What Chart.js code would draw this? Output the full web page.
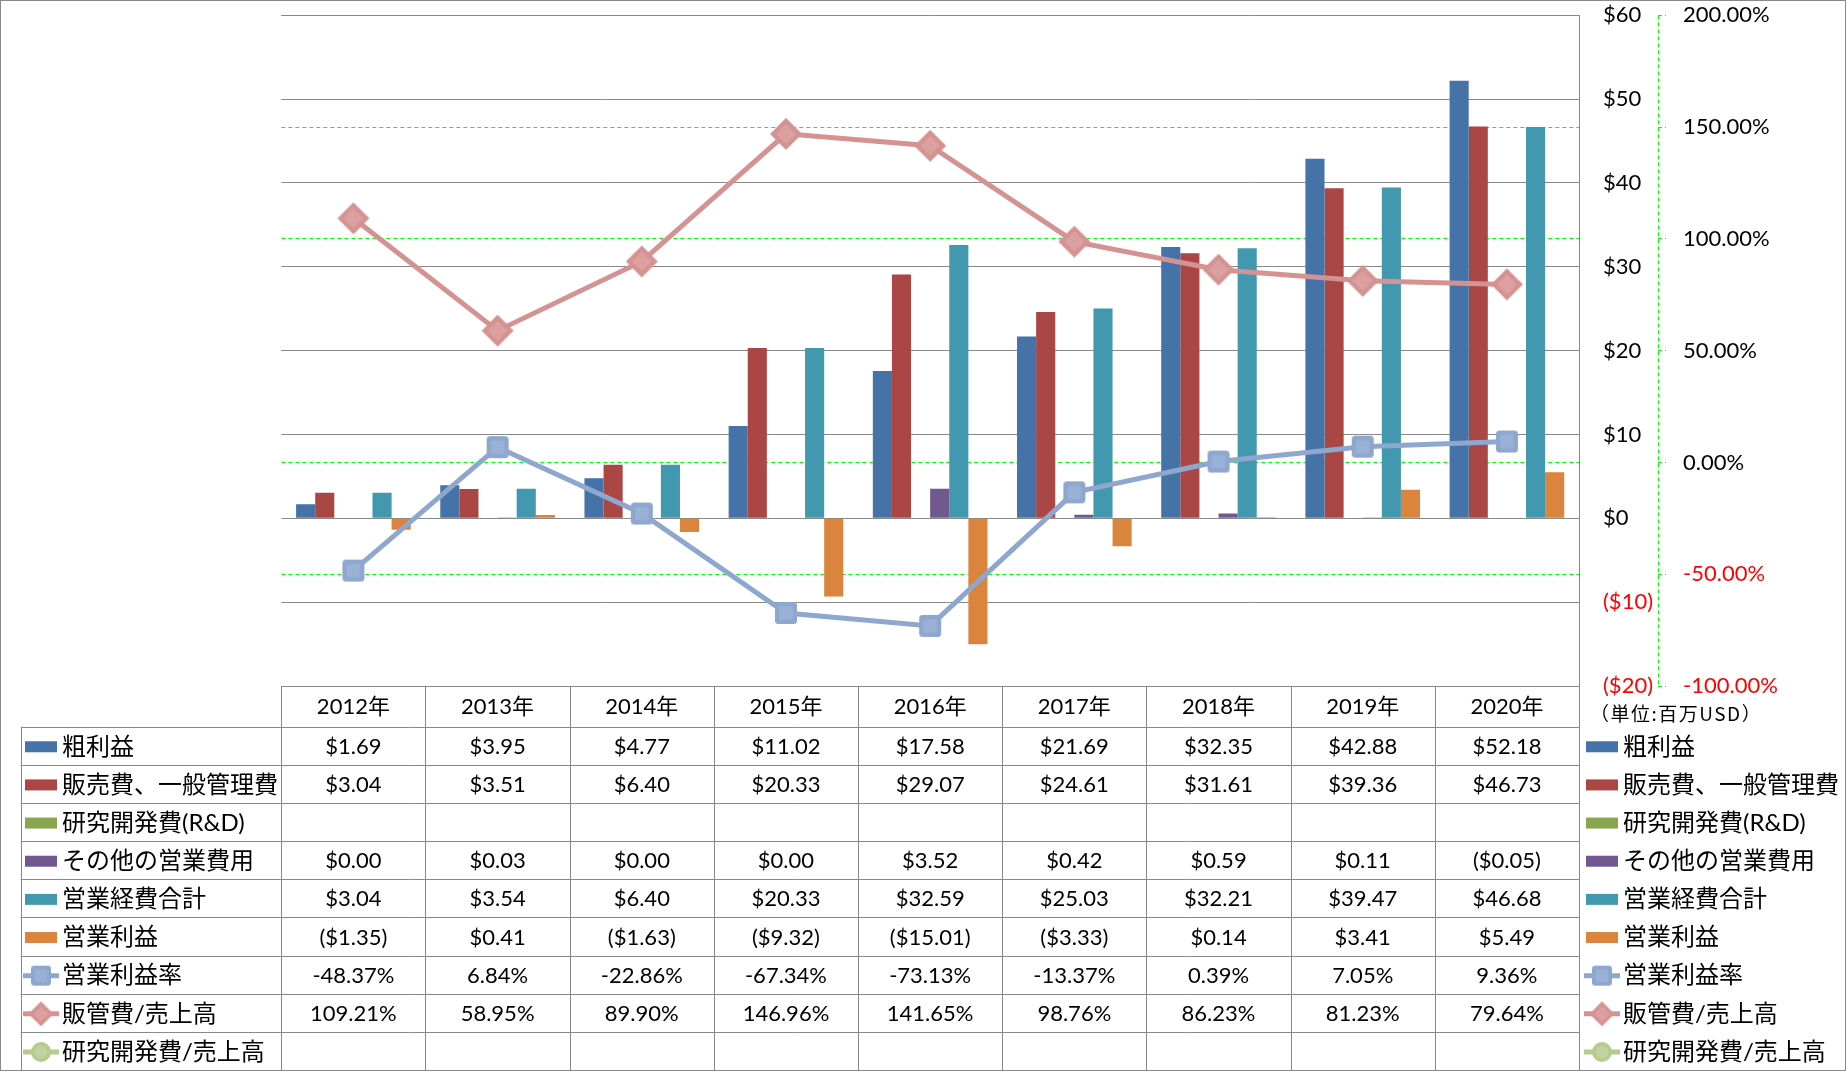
<!DOCTYPE html>
<html>
<head>
<meta charset="utf-8">
<script src="https://cdn.jsdelivr.net/npm/chart.js@4.4.0/dist/chart.umd.min.js"></script>
<style>
  html, body { margin: 0; padding: 0; background: #fff; }
</style>
</head>
<body>
<canvas id="financeChart" width="1846" height="1071"></canvas>
<script>
const years = ['2012年', '2013年', '2014年', '2015年', '2016年', '2017年', '2018年', '2019年', '2020年'];
const grossProfit = [1.69, 3.95, 4.77, 11.02, 17.58, 21.69, 32.35, 42.88, 52.18];
const sgaExpense = [3.04, 3.51, 6.40, 20.33, 29.07, 24.61, 31.61, 39.36, 46.73];
const rdExpense = [null, null, null, null, null, null, null, null, null];
const otherExpense = [0.00, 0.03, 0.00, 0.00, 3.52, 0.42, 0.59, 0.11, -0.05];
const totalOpex = [3.04, 3.54, 6.40, 20.33, 32.59, 25.03, 32.21, 39.47, 46.68];
const operatingIncome = [-1.35, 0.41, -1.63, -9.32, -15.01, -3.33, 0.14, 3.41, 5.49];
const operatingMargin = [-48.37, 6.84, -22.86, -67.34, -73.13, -13.37, 0.39, 7.05, 9.36];
const sgaRatio = [109.21, 58.95, 89.90, 146.96, 141.65, 98.76, 86.23, 81.23, 79.64];
const rdRatio = [null, null, null, null, null, null, null, null, null];

const moneyTicks = [-20, -10, 0, 10, 20, 30, 40, 50, 60];
const pctTicks = [-100, -50, 0, 50, 100, 150, 200];

const FONT = 'Lato, "Noto Sans CJK JP", sans-serif';
const LINE_GREY = '#898989';

function fmtMoney(v) {
  if (v === null) return '';
  return v < 0 ? '($' + Math.abs(v).toFixed(2) + ')' : '$' + v.toFixed(2);
}
function fmtPct(v) {
  if (v === null) return '';
  return v.toFixed(2) + '%';
}

// small bitmaps for the Excel-like markers
function makeMarker(shape, size, outer, inner) {
  const cv = document.createElement('canvas');
  cv.width = size + 2;
  cv.height = size + 2;
  const c = cv.getContext('2d');
  const m = (size + 2) / 2;
  const path = (s) => {
    c.beginPath();
    if (shape === 'square') {
      c.roundRect(m - s / 2, m - s / 2, s, s, Math.max(2, s * 0.16));
    } else if (shape === 'diamond') {
      c.moveTo(m, m - s / 2);
      c.lineTo(m + s / 2, m);
      c.lineTo(m, m + s / 2);
      c.lineTo(m - s / 2, m);
      c.closePath();
    } else {
      c.arc(m, m, s / 2, 0, Math.PI * 2);
    }
  };
  c.fillStyle = outer;
  path(size);
  c.fill();
  c.fillStyle = inner;
  path(size * 0.62);
  c.fill();
  return cv;
}

const blueSquare = makeMarker('square', 22, '#8EA7CF', '#9AB1D6');
const pinkDiamond = makeMarker('diamond', 32, '#D49392', '#DBA09F');
const blueSquareSm = makeMarker('square', 20, '#8EA7CF', '#9AB1D6');
const pinkDiamondSm = makeMarker('diamond', 25, '#D49392', '#DBA09F');
const greenCircleSm = makeMarker('circle', 20, '#B5CB90', '#C0D3A0');

// rows of the data table under the chart
const tableRows = [
  { label: '粗利益', values: grossProfit, kind: 'bar', color: '#4572A7', fmt: fmtMoney },
  { label: '販売費、一般管理費', values: sgaExpense, kind: 'bar', color: '#AA4643', fmt: fmtMoney },
  { label: '研究開発費(R&D)', values: rdExpense, kind: 'bar', color: '#89A54E', fmt: fmtMoney },
  { label: 'その他の営業費用', values: otherExpense, kind: 'bar', color: '#71588F', fmt: fmtMoney },
  { label: '営業経費合計', values: totalOpex, kind: 'bar', color: '#4198AF', fmt: fmtMoney },
  { label: '営業利益', values: operatingIncome, kind: 'bar', color: '#DB843D', fmt: fmtMoney },
  { label: '営業利益率', values: operatingMargin, kind: 'line', color: '#8EA7CF', img: blueSquareSm, fmt: fmtPct },
  { label: '販管費/売上高', values: sgaRatio, kind: 'line', color: '#D49392', img: pinkDiamondSm, fmt: fmtPct },
  { label: '研究開発費/売上高', values: rdRatio, kind: 'line', color: '#B5CB90', img: greenCircleSm, fmt: fmtPct }
];

function drawMarker(ctx, row, x0, x1, yc) {
  ctx.save();
  if (row.kind === 'bar') {
    ctx.fillStyle = row.color;
    ctx.fillRect(x0, yc - 5.5, x1 - x0, 11);
  } else {
    ctx.strokeStyle = row.color;
    ctx.lineWidth = 5;
    ctx.beginPath();
    ctx.moveTo(x0 - 2, yc);
    ctx.lineTo(x1 + 2, yc);
    ctx.stroke();
    const cx = (x0 + x1) / 2;
    ctx.drawImage(row.img, cx - row.img.width / 2, yc - row.img.height / 2);
  }
  ctx.restore();
}

const dataTablePlugin = {
  id: 'dataTable',
  afterDraw(chart) {
    const ctx = chart.ctx;
    const xs = chart.scales.x;
    const y1 = chart.scales.y1;
    const area = chart.chartArea;
    const n = years.length;
    const top = area.bottom;
    const headH = 40.7;
    const rowH = 38.15;
    const leftCol = 20.7;
    const bottom = top + headH + rowH * tableRows.length;

    ctx.save();
    // dashed secondary axis line
    ctx.strokeStyle = '#00ff00';
    ctx.lineWidth = 1;
    ctx.setLineDash([4, 3]);
    ctx.beginPath();
    ctx.moveTo(Math.round(y1.left) + 0.5, area.top);
    ctx.lineTo(Math.round(y1.left) + 0.5, area.bottom);
    ctx.stroke();
    ctx.setLineDash([]);

    // table grid
    ctx.strokeStyle = LINE_GREY;
    ctx.lineWidth = 1;
    ctx.beginPath();
    ctx.moveTo(area.left, Math.round(top) + 0.5);
    ctx.lineTo(area.right, Math.round(top) + 0.5);
    for (let i = 0; i <= tableRows.length; i++) {
      const y = Math.round(top + headH + rowH * i) + 0.5;
      ctx.moveTo(leftCol, y);
      ctx.lineTo(area.right, y);
    }
    for (let i = 0; i <= n; i++) {
      let x;
      if (i === 0) x = area.left;
      else if (i === n) x = area.right;
      else x = (xs.getPixelForValue(i - 1) + xs.getPixelForValue(i)) / 2;
      x = Math.round(x) + 0.5;
      ctx.moveTo(x, top);
      ctx.lineTo(x, bottom);
    }
    ctx.moveTo(Math.round(leftCol) + 0.5, top + headH);
    ctx.lineTo(Math.round(leftCol) + 0.5, bottom);
    ctx.stroke();

    // header
    ctx.fillStyle = '#000';
    ctx.textBaseline = 'middle';
    ctx.textAlign = 'center';
    ctx.font = '22px ' + FONT;
    years.forEach((yr, i) => {
      ctx.fillText(yr, xs.getPixelForValue(i), top + headH / 2 + 1);
    });

    // body rows + legends
    tableRows.forEach((row, r) => {
      const yc = top + headH + rowH * (r + 0.5) + 1;
      ctx.font = '22px ' + FONT;
      ctx.textAlign = 'center';
      row.values.forEach((v, i) => {
        ctx.fillText(row.fmt(v), xs.getPixelForValue(i), yc);
      });
      drawMarker(ctx, row, 25, 57, yc);
      drawMarker(ctx, row, 1586, 1618, yc);
      ctx.fillStyle = '#000';
      ctx.font = '24px ' + FONT;
      ctx.textAlign = 'left';
      ctx.fillText(row.label, 62, yc);
      ctx.fillText(row.label, 1623, yc);
    });

    // unit note
    ctx.font = '19px "Noto Sans CJK JP", sans-serif';
    ctx.letterSpacing = '1.5px';
    ctx.textAlign = 'left';
    ctx.fillText('（単位:百万USD）', 1590, top + 28);
    ctx.letterSpacing = '0px';

    // outer frame
    ctx.strokeStyle = LINE_GREY;
    ctx.strokeRect(0.5, 0.5, chart.width - 1, chart.height - 1);
    ctx.restore();
  }
};

const barDefaults = { yAxisID: 'y', order: 1, borderWidth: 0, barPercentage: 1, categoryPercentage: 0.795 };

function noVerticalPadding(scale, width) {
  scale.width = width;
  scale.paddingTop = 0;
  scale.paddingBottom = 0;
}

new Chart(document.getElementById('financeChart'), {
  type: 'bar',
  data: {
    labels: years,
    datasets: [
      { ...barDefaults, label: '粗利益', data: grossProfit, backgroundColor: '#4572A7' },
      { ...barDefaults, label: '販売費、一般管理費', data: sgaExpense, backgroundColor: '#AA4643' },
      { ...barDefaults, label: '研究開発費(R&D)', data: rdExpense, backgroundColor: '#89A54E' },
      { ...barDefaults, label: 'その他の営業費用', data: otherExpense, backgroundColor: '#71588F' },
      { ...barDefaults, label: '営業経費合計', data: totalOpex, backgroundColor: '#4198AF' },
      { ...barDefaults, label: '営業利益', data: operatingIncome, backgroundColor: '#DB843D' },
      {
        type: 'line', label: '営業利益率', data: operatingMargin, yAxisID: 'y1', order: 0,
        borderColor: '#8EA7CF', backgroundColor: '#8EA7CF', borderWidth: 5, tension: 0,
        pointStyle: blueSquare, pointRadius: 12
      },
      {
        type: 'line', label: '販管費/売上高', data: sgaRatio, yAxisID: 'y1', order: 0,
        borderColor: '#D49392', backgroundColor: '#D49392', borderWidth: 5, tension: 0,
        pointStyle: pinkDiamond, pointRadius: 16
      },
      {
        type: 'line', label: '研究開発費/売上高', data: rdRatio, yAxisID: 'y1', order: 0,
        borderColor: '#B5CB90', backgroundColor: '#B5CB90', borderWidth: 5,
        pointStyle: 'circle', pointRadius: 10
      }
    ]
  },
  options: {
    responsive: false,
    animation: false,
    layout: {
      autoPadding: false,
      padding: { left: 281.3, right: 0, top: 15.3, bottom: 385 }
    },
    plugins: {
      legend: { display: false },
      tooltip: { enabled: false }
    },
    scales: {
      x: {
        display: false,
        offset: true
      },
      y: {
        position: 'right',
        weight: 0,
        min: -20,
        max: 60,
        afterFit: (scale) => noVerticalPadding(scale, 79),
        afterBuildTicks: (scale) => { scale.ticks = moneyTicks.map(v => ({ value: v })); },
        ticks: {
          padding: 24,
          color: (c) => (c.tick && c.tick.value < 0 ? '#ff0000' : '#000000'),
          font: { family: FONT, size: 22 },
          callback: (v) => (v < 0 ? '($' + Math.abs(v) + ')' : '$' + v)
        },
        grid: { color: LINE_GREY, drawTicks: false, z: -1 },
        border: { display: true, color: LINE_GREY }
      },
      y1: {
        position: 'right',
        weight: 1,
        min: -100,
        max: 200,
        afterFit: (scale) => noVerticalPadding(scale, 188),
        afterBuildTicks: (scale) => { scale.ticks = pctTicks.map(v => ({ value: v })); },
        ticks: {
          padding: 17,
          color: (c) => (c.tick && c.tick.value < 0 ? '#ff0000' : '#000000'),
          font: { family: FONT, size: 22 },
          callback: (v) => v.toFixed(2) + '%'
        },
        grid: { color: '#00ff00', drawTicks: true, tickLength: 8, tickBorderDash: [4, 3], z: -2 },
        border: { display: false, dash: [4, 3] }
      }
    }
  },
  plugins: [dataTablePlugin]
});
</script>
</body>
</html>
